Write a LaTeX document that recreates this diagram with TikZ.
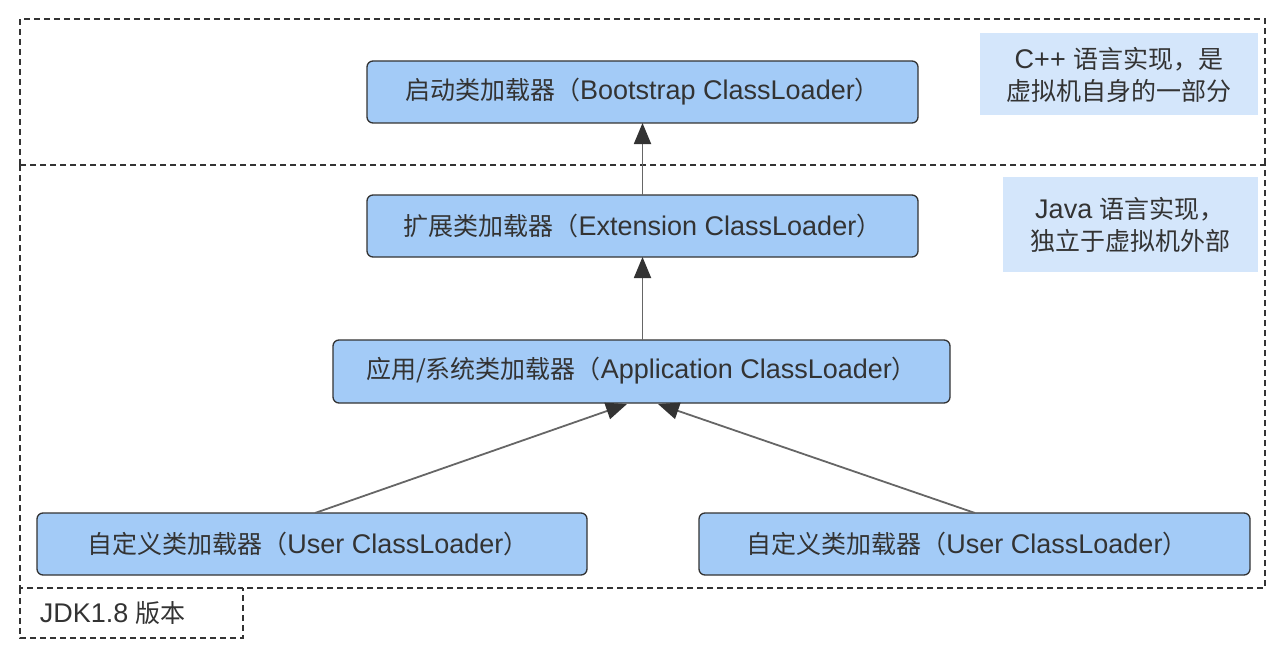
\documentclass[tikz,border=0pt]{standalone}
\usepackage{fontspec}
\setmainfont[Scale=1.08]{Liberation Sans}
\newfontfamily\cjk{Noto Sans CJK SC}
\usetikzlibrary{arrows.meta}
\definecolor{boxfill}{HTML}{A3CBF7}
\definecolor{notefill}{HTML}{D4E6FB}
\definecolor{edge}{HTML}{333333}
\definecolor{linec}{HTML}{666666}
\newcommand{\zh}[1]{{\cjk #1}}
\begin{document}
\begin{tikzpicture}[x=1pt,y=-1pt,
  region/.style={draw=edge,dashed,dash pattern=on 6pt off 4pt,line width=1.3pt},
  loader/.style={draw=edge,fill=boxfill,rounded corners=6pt,line width=1.3pt},
  note/.style={fill=notefill},
  lbl/.style={font=\fontsize{25}{32}\selectfont,text=edge,align=center},
  conn/.style={draw=linec,line width=1.8pt,-{Triangle[length=21pt,width=17pt,color=edge]}}]
\useasboundingbox (0,0) rectangle (1284,658);
% regions
\draw[region] (20,165) -- (20,19) -- (1265,19) -- (1265,165);
\draw[region] (20,165) rectangle (1265,588);
\draw[region] (20,588) -- (20,638) -- (243,638) -- (243,588);
\node[lbl,anchor=west] (jdk) at (36,613) {JDK1.8 \zh{版本}};
% notes
\fill[note] (980,33) rectangle (1258,115);
\node[lbl] (n1) at (1119,75) {C++ \zh{语言实现，是}\\\zh{虚拟机自身的一部分}};
\fill[note] (1003,177) rectangle (1258,272);
\node[lbl] (n2) at (1130,225) {Java \zh{语言实现，}\\\zh{独立于虚拟机外部}};
% loaders
\draw[loader] (367,61) rectangle (918,123);
\node[lbl] (boot) at (642.5,92) {\zh{启动类加载器（}Bootstrap ClassLoader\zh{）}};
\coordinate (bootB) at (642.5,123);
\draw[loader] (367,195) rectangle (918,257);
\node[lbl] (ext) at (642.5,226) {\zh{扩展类加载器（}Extension ClassLoader\zh{）}};
\coordinate (extT) at (642.5,195);
\coordinate (extB) at (642.5,257);
\draw[loader] (333,340) rectangle (950,403);
\node[lbl] (app) at (641.5,371) {\zh{应用/系统类加载器（}Application ClassLoader\zh{）}};
\coordinate (appT) at (642.5,340);
\coordinate (appBL) at (627,404);
\coordinate (appBR) at (658,404);
\draw[loader] (37,513) rectangle (587,575);
\node[lbl] (u1) at (308,544) {\zh{自定义类加载器（}User ClassLoader\zh{）}};
\coordinate (u1T) at (315,513);
\draw[loader] (699,513) rectangle (1250,575);
\node[lbl] (u2) at (967,544) {\zh{自定义类加载器（}User ClassLoader\zh{）}};
\coordinate (u2T) at (975,513);
% connectors
\draw[conn] (extT) -- (bootB);
\draw[conn] (appT) -- (extB);
\draw[conn] (u1T) -- (appBL);
\draw[conn] (u2T) -- (appBR);
\end{tikzpicture}
\end{document}
